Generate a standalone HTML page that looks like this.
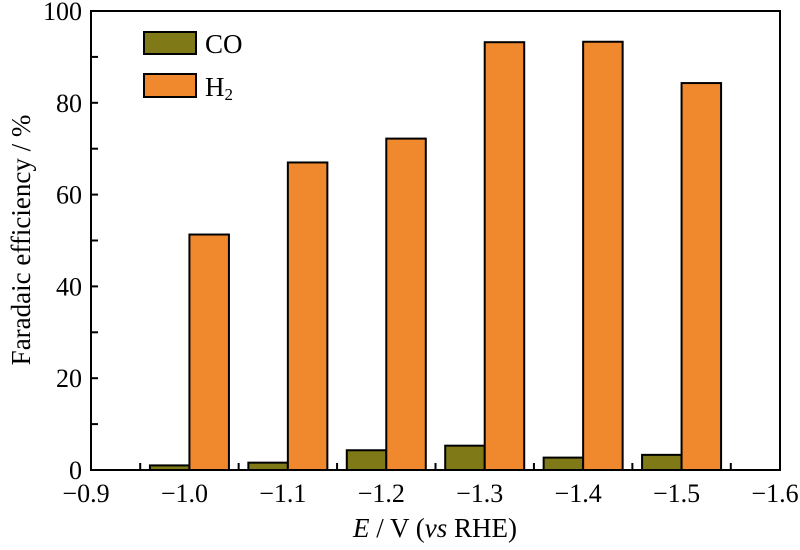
<!DOCTYPE html>
<html><head><meta charset="utf-8"><style>body{margin:0;background:#fff}svg{display:block;font-family:"Liberation Serif",serif}</style></head>
<body>
<svg id="c" width="800" height="550"></svg>
<script>
const categories=["−1.0","−1.1","−1.2","−1.3","−1.4","−1.5"];
const catValues=[1.0,1.1,1.2,1.3,1.4,1.5];
const coValues=[1.0,1.6,4.3,5.3,2.7,3.3];
const h2Values=[51.3,67.0,72.2,93.2,93.3,84.3];
const xTickValues=[0.9,1.0,1.1,1.2,1.3,1.4,1.5,1.6];
const xTickLabels=["−0.9","−1.0","−1.1","−1.2","−1.3","−1.4","−1.5","−1.6"];
const yTicks=[0,20,40,60,80,100];
const L=91,R=780,T=11,B=470;
const x=v=>L+(v-0.9)/0.7*(R-L);
const y=v=>B-v/100*(B-T);
const s=document.getElementById('c');const NS="http://www.w3.org/2000/svg";
function el(t,a,p){const e=document.createElementNS(NS,t);for(const k in a)e.setAttribute(k,a[k]);(p||s).appendChild(e);return e;}
const bw=39.5;
catValues.forEach((c,i)=>{
 const cx=x(c);
 let b=el('rect',{x:cx-bw,y:y(coValues[i]),width:bw,height:B-y(coValues[i]),fill:'#7f7a17',stroke:'#000','stroke-width':2});
 
 
 b=el('rect',{x:cx,y:y(h2Values[i]),width:bw,height:B-y(h2Values[i]),fill:'#f0892e',stroke:'#000','stroke-width':2});
 
 
});
el('rect',{x:L,y:T,width:R-L,height:B-T,fill:'none',stroke:'#000','stroke-width':2,});
xTickValues.forEach((v,i)=>{
 if(i<xTickValues.length-1){const m=x(v+0.05);el('line',{x1:m,x2:m,y1:B,y2:B-7,stroke:'#000','stroke-width':2});}
 const t=el('text',{x:x(v)-5,y:B+32,'font-size':26,'text-anchor':'middle'});t.textContent=xTickLabels[i];
 
 
});
for(let v=10;v<100;v+=10){el('line',{x1:L,x2:L+7,y1:y(v),y2:y(v),stroke:'#000','stroke-width':2});}
yTicks.forEach(v=>{const t=el('text',{x:82,y:y(v)+9,'font-size':26,'text-anchor':'end'});t.textContent=v;
 
 });
</script>
<svg width="800" height="550" style="position:absolute;left:0;top:0;font-family:'Liberation Serif',serif">
<g>
<rect x="144" y="32" width="52" height="22" fill="#7f7a17" stroke="#000" stroke-width="2"/>
<text x="205" y="53" font-size="27">CO</text>
<rect x="144" y="74" width="52" height="23" fill="#f0892e" stroke="#000" stroke-width="2"/>
<text x="205" y="96" font-size="27">H<tspan font-size="17" dy="4">2</tspan></text>
</g>
<text x="435" y="537" font-size="27" text-anchor="middle"><tspan font-style="italic">E</tspan> / V (<tspan font-style="italic">vs</tspan> RHE)</text>
<text transform="translate(30,240) rotate(-90)" font-size="27" text-anchor="middle">Faradaic efficiency / %</text>
</svg>
</body></html>
